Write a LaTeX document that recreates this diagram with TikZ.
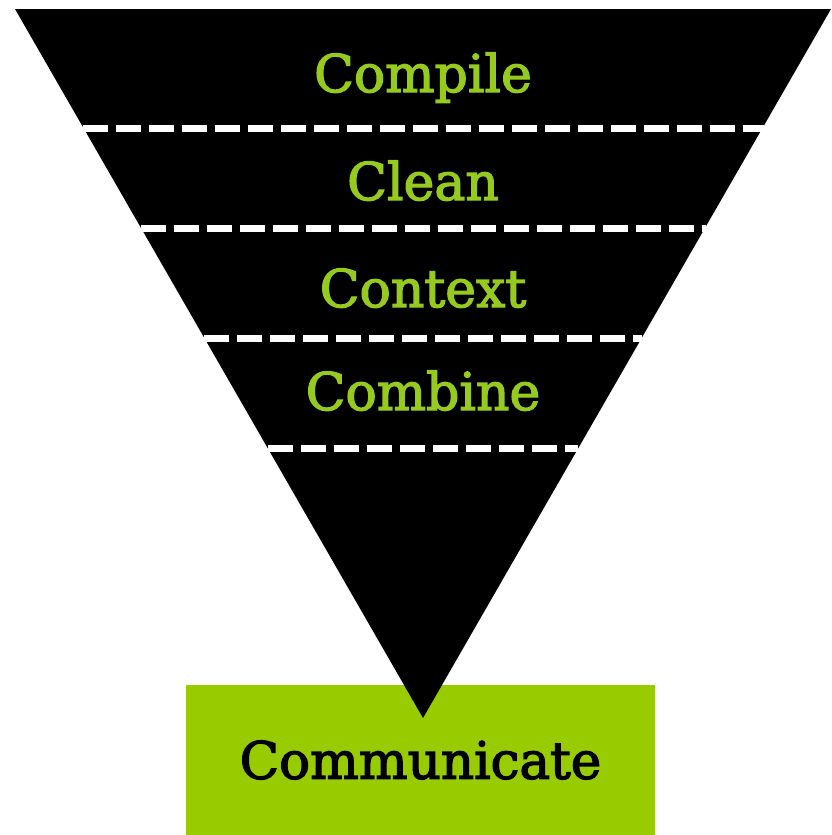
\documentclass[tikz,border=0pt]{standalone}
\usepackage{fontspec}
\setmainfont{DejaVu Serif}
\newfontfamily\labelfont[FakeBold=2.5]{DejaVu Serif}
\definecolor{boxgreen}{RGB}{153,204,0}
\definecolor{labelgreen}{RGB}{150,202,30}
\begin{document}
\begin{tikzpicture}[x=1pt,y=-1pt,
  layer/.style={text=labelgreen,font=\labelfont\fontsize{52}{60}\selectfont,anchor=base,inner sep=0pt},
  divider/.style={draw=white,line width=7pt,dash pattern=on 25pt off 8pt},
  outbox/.style={fill=boxgreen,minimum width=469pt,minimum height=150pt,inner sep=0pt,
    font=\labelfont\fontsize{51.5}{60}\selectfont,text=black}]
\useasboundingbox (0,0) rectangle (831,835);
\node[outbox] (comm) at (420.5,760) {Communicate};
\coordinate (tl) at (15,9);
\coordinate (tr) at (831,9);
\coordinate (apex) at (423,718);
\fill[black] (tl) -- (tr) -- (apex) -- cycle;
\coordinate (d1l) at (83,128);  \coordinate (d1r) at (764,128);
\coordinate (d2l) at (141,228); \coordinate (d2r) at (706,228);
\coordinate (d3l) at (204,338); \coordinate (d3r) at (642,338);
\coordinate (d4l) at (268,448); \coordinate (d4r) at (578,448);
\draw[divider] (d1l) -- (d1r);
\draw[divider] (d2l) -- (d2r);
\draw[divider] (d3l) -- (d3r);
\draw[divider] (d4l) -- (d4r);
\node[layer] (compile) at (423,92) {Compile};
\node[layer] (clean) at (423,200) {Clean};
\node[layer] (context) at (423,307) {Context};
\node[layer] (combine) at (423,410) {Combine};
\end{tikzpicture}
\end{document}
